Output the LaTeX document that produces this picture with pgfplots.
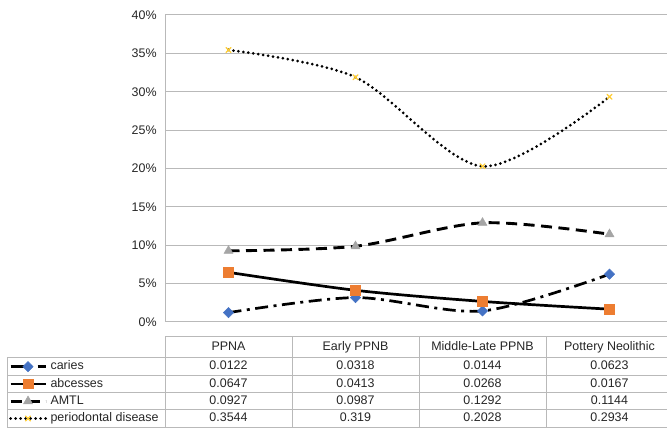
\documentclass[border=0pt]{standalone}
\usepackage{pgfplots}
\pgfplotsset{compat=1.18}
\usepackage{fontspec}
\setmainfont{Liberation Sans}
\definecolor{cblue}{RGB}{68,114,196}
\definecolor{corange}{RGB}{237,125,49}
\definecolor{cgray}{RGB}{165,165,165}
\definecolor{cgold}{RGB}{255,192,0}
\definecolor{gridc}{RGB}{185,185,185}
\begin{document}
\fontsize{12.5}{15}\selectfont
\begin{tikzpicture}[x=1bp,y=1bp]
\useasboundingbox (0,0) rectangle (667,434);
\begin{axis}[
  at={(165bp,112bp)}, anchor=south west, scale only axis,
  width=508bp, height=307bp,
  xmin=0, xmax=4, ymin=0, ymax=0.4,
  axis x line=bottom, axis y line=left,
  axis line style={gridc,-,line width=1bp},
  xtick=\empty,
  ytick={0,0.05,0.1,0.15,0.2,0.25,0.3,0.35,0.4},
  yticklabels={0\%,5\%,10\%,15\%,20\%,25\%,30\%,35\%,40\%},
  ymajorgrids, major grid style={gridc,line width=1bp},
  major tick length=0pt,
  yticklabel style={font=\fontsize{12.5}{15}\selectfont, xshift=-4bp, text=black!85},
  legend cell align=left,
  legend image code/.code={\draw[#1,mark repeat=2,mark phase=2] plot coordinates {(0bp,0bp) (17.5bp,0bp) (35bp,0bp)};},
  legend style={at={(axis cs:-1.228,-0.0469)}, anchor=north west, draw=none, fill=none,
    inner sep=0pt, outer sep=0pt, row sep=0pt,
    font=\fontsize{12.5}{15}\selectfont,
    nodes={inner sep=0pt, outer sep=0pt, text height=9bp, text depth=2.5bp, minimum height=17.3bp, anchor=west, text=black!85},
    /tikz/every odd column/.style={column sep=3.5bp}},
]
\addplot[black, line width=2.7bp, smooth, tension=0.5,
  dash pattern=on 13bp off 5.5bp on 3bp off 5.5bp,
  mark=square*, mark size=3.6bp, mark options={solid, rotate=45, fill=cblue, draw=cblue, line width=0.5bp}]
  coordinates {(0.5,0.0122) (1.5,0.0318) (2.5,0.0144) (3.5,0.0623)};
\addlegendentry{caries}
\addplot[black, line width=2.7bp, smooth, tension=0.5,
  mark=square*, mark size=4.8bp, mark options={solid, fill=corange, draw=corange, line width=0.5bp}]
  coordinates {(0.5,0.0647) (1.5,0.0413) (2.5,0.0268) (3.5,0.0167)};
\addlegendentry{abcesses}
\addplot[black, line width=2.9bp, smooth, tension=0.5,
  dash pattern=on 11bp off 6.5bp,
  mark=triangle*, mark size=5.2bp, mark options={solid, fill=cgray, draw=cgray, line width=0.5bp}]
  coordinates {(0.5,0.0927) (1.5,0.0987) (2.5,0.1292) (3.5,0.1144)};
\addlegendentry{AMTL}
\addplot[black, line width=3bp, smooth, tension=0.5, line cap=round,
  dash pattern=on 0bp off 5bp,
  mark=x, mark size=3.5bp, mark options={solid, draw=cgold!80!white, line width=1.2bp}]
  coordinates {(0.5,0.3544) (1.5,0.319) (2.5,0.2028) (3.5,0.2934)};
\addlegendentry{periodontal disease}
\end{axis}
% data table
\begin{scope}[gridc, line width=1bp]
\draw (165,97) -- (673,97);
\foreach \y in {76,58.7,41.4,24.1,6.8} \draw (7,\y) -- (673,\y);
\draw (7,76) -- (7,6.8);
\foreach \x in {165,292,419,546,673} \draw (\x,97) -- (\x,6.8);
\end{scope}
\tikzset{cell/.style={font=\fontsize{12.5}{15}\selectfont, text height=9bp, text depth=2.5bp, inner sep=0pt, text=black!85}}
\node[cell] at (228.5,86.5) {PPNA};
\node[cell] at (355.5,86.5) {Early PPNB};
\node[cell] at (482.5,86.5) {Middle-Late PPNB};
\node[cell] at (609.5,86.5) {Pottery Neolithic};
\node[cell] at (228.5,67.35) {0.0122};
\node[cell] at (355.5,67.35) {0.0318};
\node[cell] at (482.5,67.35) {0.0144};
\node[cell] at (609.5,67.35) {0.0623};
\node[cell] at (228.5,50.05) {0.0647};
\node[cell] at (355.5,50.05) {0.0413};
\node[cell] at (482.5,50.05) {0.0268};
\node[cell] at (609.5,50.05) {0.0167};
\node[cell] at (228.5,32.75) {0.0927};
\node[cell] at (355.5,32.75) {0.0987};
\node[cell] at (482.5,32.75) {0.1292};
\node[cell] at (609.5,32.75) {0.1144};
\node[cell] at (228.5,15.45) {0.3544};
\node[cell] at (355.5,15.45) {0.319};
\node[cell] at (482.5,15.45) {0.2028};
\node[cell] at (609.5,15.45) {0.2934};
\end{tikzpicture}
\end{document}
